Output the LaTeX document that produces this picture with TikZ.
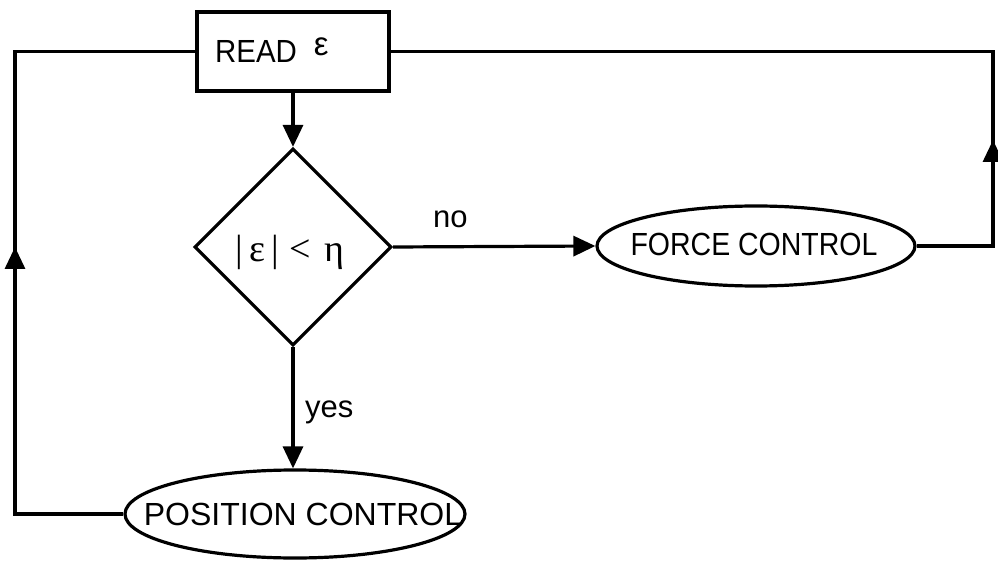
\documentclass[tikz,border=0pt]{standalone}
\usepackage{fontspec}
\setmainfont{Liberation Sans}
\newfontfamily\serifgr{Liberation Serif}
\usetikzlibrary{shapes.geometric,arrows.meta}
\begin{document}
\begin{tikzpicture}[x=1pt,y=-1pt,
  line/.style={line width=3.2pt},
  tip/.style={line width=3.2pt,-{Triangle[length=22pt,width=20pt]}},
  boxnode/.style={draw,line width=3.2pt,minimum width=192pt,minimum height=79pt,inner sep=0pt},
  decide/.style={draw,diamond,line width=3.2pt,minimum width=197pt,minimum height=197pt,inner sep=0pt},
  oval/.style={draw,ellipse,line width=3.2pt,inner sep=0pt},
  lbl/.style={inner sep=0pt,font=\fontsize{31}{31}\selectfont}]
\useasboundingbox (0,0) rectangle (998,561);
% nodes
\node[boxnode] (rd) at (293,51.5) {};
\node[lbl,anchor=base west] (rdt) at (215,63) {\scalebox{0.92}[1]{\fontsize{32}{32}\selectfont READ}\hspace{17pt}\raisebox{7pt}{\fontsize{33}{33}\selectfont ε}};
\node[decide] (dec) at (293,247) {};
\node[lbl,font=\serifgr\fontsize{38}{38}\selectfont] (dect) at (290,252) {|\hspace{6pt}ε\hspace{6pt}|\hspace{11pt}<\hspace{13pt}η};
\node[oval,minimum width=318pt,minimum height=80pt] (fc) at (756,246) {};
\node[lbl] (fct) at (754,244) {\scalebox{0.89}[1]{\fontsize{32}{32}\selectfont FORCE CONTROL}};
\node[oval,minimum width=340pt,minimum height=88pt] (pc) at (295,514) {};
\node[lbl,font=\fontsize{32}{32}\selectfont] (pct) at (303,514) {POSITION CONTROL};
\node[lbl,anchor=base west] (no) at (433,228) {no};
\node[lbl,anchor=base west] (yes) at (305,417) {yes};
% loop corners
\coordinate (lb) at (15,514);
\coordinate (lt) at (15,51.5);
\coordinate (la) at (15,247);
\coordinate (rb) at (993,246);
\coordinate (rt) at (993,51.5);
\coordinate (ra) at (993,140);
% connectors
\draw[tip] (rd.south) -- (dec.north);
\draw[tip] (dec.east) -- (fc.west);
\draw[tip] (dec.south) -- (dec.south |- pc.north);
\draw[line] (pc.west) -- (lb) -- (lt) -- (rd.west);
\draw[tip] (lb) -- (la);
\draw[line] (fc.east) -- (rb) -- (rt) -- (rd.east);
\draw[tip] (rb) -- (ra);
\end{tikzpicture}
\end{document}
